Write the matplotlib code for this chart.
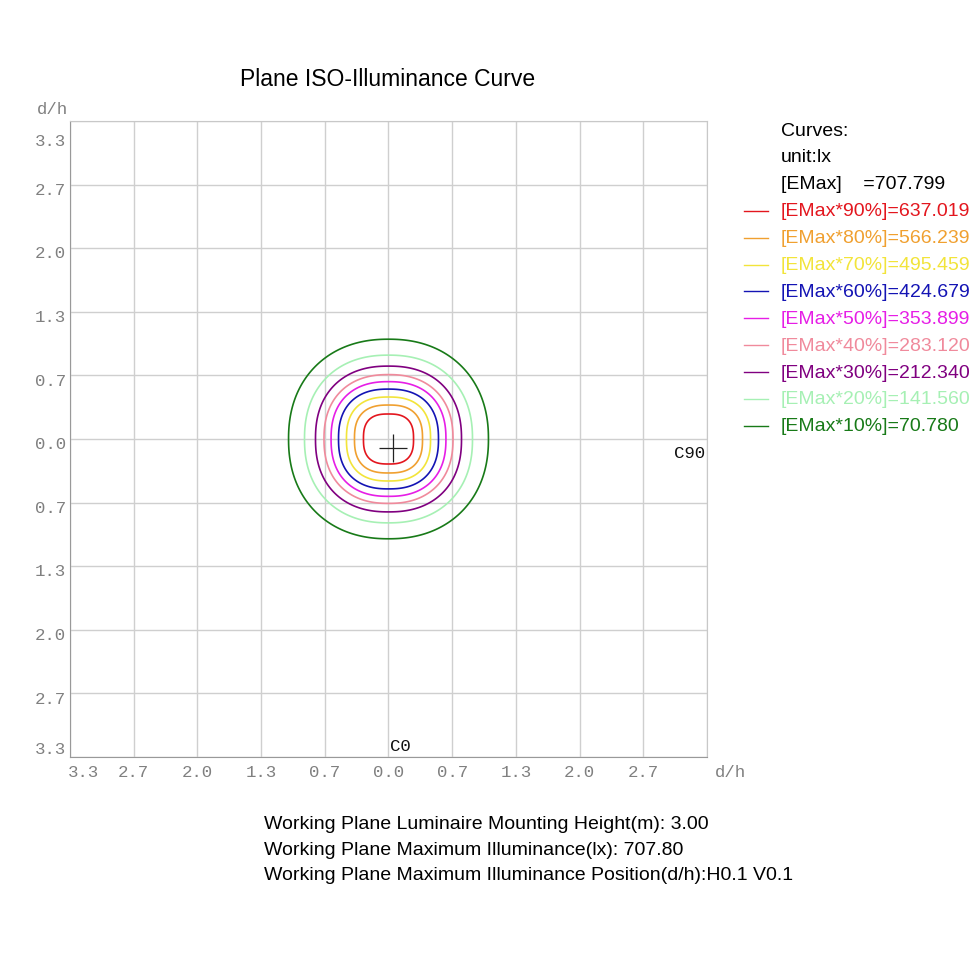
import numpy as np
import matplotlib.pyplot as plt
from matplotlib.lines import Line2D

# -----------------------------
# Data
# -----------------------------
emax = 707.799
level_pct = [90, 80, 70, 60, 50, 40, 30, 20, 10]
level_lx = [637.019, 566.239, 495.459, 424.679, 353.899, 283.120, 212.340, 141.560, 70.780]
level_colors = ["#e3161e", "#f0a030", "#f2e43a", "#1414b4", "#e61ee6",
                "#f08a9c", "#800080", "#a6f0b4", "#187a18"]
# half size of each iso-curve (d/h) and how square it is
half_width = [0.262, 0.356, 0.440, 0.523, 0.601, 0.675, 0.764, 0.879, 1.046]
squareness = [2.7, 2.6, 2.5, 2.4, 2.35, 2.3, 2.3, 2.25, 2.2]

tick_vals = [-10/3, -8/3, -2.0, -4/3, -2/3, 0.0, 2/3, 4/3, 2.0, 8/3, 10/3]
tick_text = ["3.3", "2.7", "2.0", "1.3", "0.7", "0.0", "0.7", "1.3", "2.0", "2.7", "3.3"]
max_pos = (0.05, -0.09)

mount_h = 3.00
e_max_txt = 707.80

# -----------------------------
# Figure
# -----------------------------
fig = plt.figure(figsize=(9.7, 9.7), dpi=100)
ax = fig.add_axes([70/970, 1-758/970, 637/970, 636/970])
lim = 10/3
ax.set_xlim(-lim, lim)
ax.set_ylim(-lim, lim)
ax.set_xticks(tick_vals)
ax.set_yticks(tick_vals)
ax.tick_params(length=0, labelbottom=False, labelleft=False)
ax.grid(True, color="#cfcfcf", lw=1.0)
for s in ax.spines.values():
    s.set_color("#c8c8c8")
ax.spines["left"].set_color("#999999")
ax.spines["bottom"].set_color("#999999")

# iso-illuminance curves
g = np.linspace(-lim, lim, 801)
X, Y = np.meshgrid(g, g)
for hw, p, c in zip(half_width, squareness, level_colors):
    R = (np.abs(X)**p + np.abs(Y)**p)**(1/p)
    ax.contour(X, Y, R, levels=[hw], colors=[c], linewidths=1.2)

ax.plot(*max_pos, marker="+", ms=20, mew=0.9, color="#222222")

# axis labels drawn as text
mono = "Liberation Mono"
gray = "#808080"
for v, t in zip(tick_vals, tick_text):
    yy = v - 0.05
    if v == tick_vals[-1]:
        yy = v - 0.2
    if v == tick_vals[0]:
        yy = v + 0.09
    ax.text(-lim - 0.04, yy, t, ha="right", va="center", fontsize=12.5,
            family=mono, color=gray)
for v, t in zip(tick_vals[:-1], tick_text[:-1]):
    xx = v
    if v == tick_vals[0]:
        xx = v + 0.14
    ax.text(xx, -lim - 0.07, t, ha="center", va="top", fontsize=12.5,
            family=mono, color=gray)
ax.text(lim + 0.08, -lim - 0.07, "d/h", ha="left", va="top", fontsize=12.5,
        family=mono, color=gray)
ax.text(-lim - 0.02, lim + 0.05, "d/h", ha="right", va="bottom", fontsize=12.5,
        family=mono, color=gray)
ax.text(0.02, -lim + 0.04, "C0", ha="left", va="bottom", fontsize=12.5,
        family=mono, color="#111111")
ax.text(lim - 0.02, -0.06, "C90", ha="right", va="top", fontsize=12.5,
        family=mono, color="#111111")

# title
fig.text(388/970, 1-80/970, "Plane ISO-Illuminance Curve", ha="center",
         va="center", fontsize=16.5, family="Liberation Sans")

# legend block
sans = "Liberation Sans"
fs = 14
x0 = 781/970
row = 26.9
y_first = 131
fig.text(x0, 1-y_first/970, "Curves:", fontsize=fs, family=sans, va="center")
fig.text(x0, 1-(y_first+row)/970, "unit:lx", fontsize=fs, family=sans, va="center")
fig.text(x0, 1-(y_first+2*row)/970, "[EMax]    =%.3f" % emax, fontsize=fs,
         family=sans, va="center")
for i, (pct, lx, c) in enumerate(zip(level_pct, level_lx, level_colors)):
    yy = 1 - (y_first + (i+3)*row)/970
    fig.text(x0, yy, "[EMax*%d%%]=%.3f" % (pct, lx), fontsize=fs,
             family=sans, va="center", color=c)
    fig.add_artist(Line2D([744/970, 768/970], [yy, yy], color=c, lw=1.0,
                          transform=fig.transFigure))

# info lines
info = ["Working Plane Luminaire Mounting Height(m): %.2f" % mount_h,
        "Working Plane Maximum Illuminance(lx): %.2f" % e_max_txt,
        "Working Plane Maximum Illuminance Position(d/h):H0.1 V0.1"]
for i, t in enumerate(info):
    fig.text(264/970, 1-(825 + i*25.5)/970, t, fontsize=14, family=sans,
             va="center")

fig.savefig("out.png", dpi=100)
